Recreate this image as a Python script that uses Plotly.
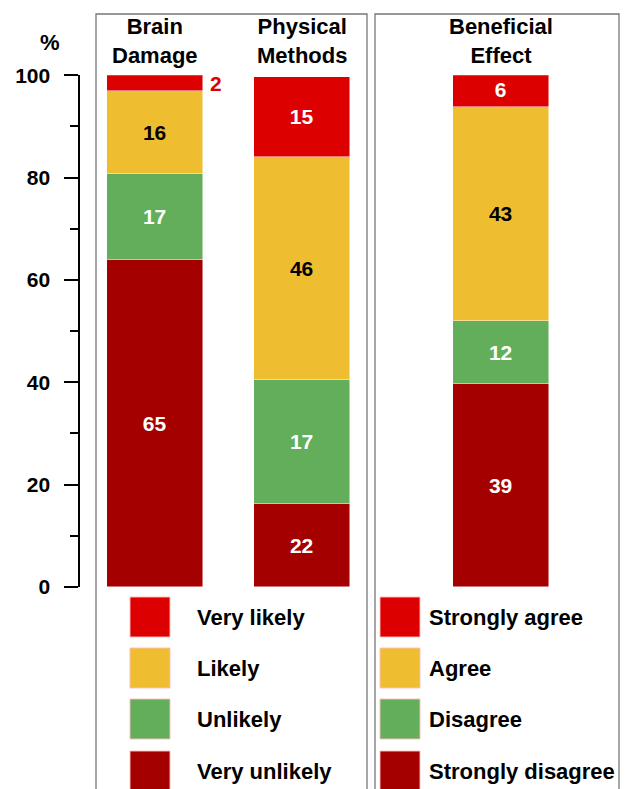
import plotly.graph_objects as go

W, H = 626, 789

# ---------------- data ----------------
left_categories = ["Brain Damage", "Physical Methods"]
left_titles = ["Brain<br>Damage", "Physical<br>Methods"]
right_categories = ["Beneficial Effect"]
right_titles = ["Beneficial<br>Effect"]

left_levels = ["Very unlikely", "Unlikely", "Likely", "Very likely"]      # bottom -> top
right_levels = ["Strongly disagree", "Disagree", "Agree", "Strongly agree"]

# drawn segment heights (%)
brain_damage_heights = [63.8, 16.9, 16.1, 3.2]
physical_methods_heights = [16.2, 24.2, 43.5, 15.8]
beneficial_effect_heights = [39.7, 12.3, 41.7, 6.6]

# printed labels
brain_damage_labels = [65, 17, 16, 2]
physical_methods_labels = [22, 17, 46, 15]
beneficial_effect_labels = [39, 12, 43, 6]

y_ticks = [0, 20, 40, 60, 80, 100]
y_minor_ticks = [10, 30, 50, 70, 90]

# ---------------- style ----------------
colors = ["#A50000", "#63AE5A", "#EEBD30", "#DD0000"]
text_colors = ["white", "white", "black", "white"]
FONT = "Liberation Sans, Arial, sans-serif"


def px(x):
    return x / W


def py(y):
    return 1 - y / H


# axis geometry (pixels)
y0_px, y100_px = 587.0, 75.3
left_box = (96, 367)
right_box = (375, 619)
bar_w_px = 96.0
left_centers_px = (154.7, 301.7)
right_center_px = 501.3
unit_px = left_centers_px[1] - left_centers_px[0]
bar_w = bar_w_px / unit_px

x1_range = [(left_box[0] - left_centers_px[0]) / unit_px, (left_box[1] - left_centers_px[0]) / unit_px]
x2_range = [(right_box[0] - right_center_px) / unit_px, (right_box[1] - right_center_px) / unit_px]

fig = go.Figure()

for i in range(4):
    heights = [brain_damage_heights[i], physical_methods_heights[i]]
    labels = [brain_damage_labels[i], physical_methods_labels[i]]
    texts = [str(v) for v in labels]
    if i == 3:
        texts[0] = ""  # the "2" is drawn outside the bar
    fig.add_trace(go.Bar(
        x=left_categories, y=heights, name=left_levels[i],
        marker=dict(color=colors[i], line=dict(color="rgba(255,255,255,0.6)", width=0.8)),
        width=bar_w, text=texts, textposition="inside", insidetextanchor="middle",
        textangle=0, constraintext="none",
        textfont=dict(family=FONT, size=21, color=text_colors[i], weight="bold"),
        xaxis="x", yaxis="y", showlegend=False, hoverinfo="skip",
    ))
    fig.add_trace(go.Bar(
        x=right_categories, y=[beneficial_effect_heights[i]], name=right_levels[i],
        marker=dict(color=colors[i], line=dict(color="rgba(255,255,255,0.6)", width=0.8)),
        width=bar_w, text=[str(beneficial_effect_labels[i])], textposition="inside",
        insidetextanchor="middle", textangle=0, constraintext="none",
        textfont=dict(family=FONT, size=21, color=text_colors[i], weight="bold"),
        xaxis="x2", yaxis="y2", showlegend=False, hoverinfo="skip",
    ))

ydom = [py(y0_px), py(y100_px)]

fig.update_layout(
    width=W, height=H, margin=dict(l=0, r=0, t=0, b=0, autoexpand=False),
    paper_bgcolor="white", plot_bgcolor="rgba(0,0,0,0)",
    barmode="stack", bargap=0,
    font=dict(family=FONT, color="black"),
    xaxis=dict(domain=[px(left_box[0]), px(left_box[1])], range=x1_range, type="category",
               automargin=False,
               showticklabels=False, showgrid=False, zeroline=False, showline=False, ticks=""),
    xaxis2=dict(domain=[px(right_box[0]), px(right_box[1])], range=x2_range, type="category",
                anchor="y2", automargin=False,
                showticklabels=False, showgrid=False, zeroline=False, showline=False, ticks=""),
    yaxis=dict(domain=ydom, range=[0, 100], anchor="free", position=px(79.3), automargin=False,
               tickvals=y_ticks, ticktext=[str(v) for v in y_ticks],
               ticks="outside", ticklen=14, tickwidth=1.5, tickcolor="black",
               showline=True, linecolor="black", linewidth=1.8,
               showgrid=False, zeroline=False, ticklabelstandoff=10,
               tickfont=dict(family=FONT, size=21, color="black", weight="bold"),
               minor=dict(tickvals=y_minor_ticks, ticks="outside", ticklen=8,
                          tickwidth=1.5, tickcolor="black", showgrid=False)),
    yaxis2=dict(domain=ydom, range=[0, 100], anchor="x2", matches="y", automargin=False,
                showticklabels=False, showgrid=False, zeroline=False, showline=False, ticks=""),
)

shapes = []
annotations = []

# panel boxes
for (a, b) in (left_box, right_box):
    shapes.append(dict(type="rect", xref="paper", yref="paper",
                       x0=px(a), x1=px(b), y0=-0.02, y1=py(14),
                       line=dict(color="#777777", width=1.3), fillcolor="rgba(0,0,0,0)"))

# panel titles
for cat, t in zip(left_categories, left_titles):
    annotations.append(dict(x=cat, xref="x", y=py(40.5), yref="paper", text=t, showarrow=False,
                            xanchor="center", yanchor="middle",
                            font=dict(family=FONT, size=22, color="black", weight="bold")))
for cat, t in zip(right_categories, right_titles):
    annotations.append(dict(x=cat, xref="x2", y=py(40.5), yref="paper", text=t, showarrow=False,
                            xanchor="center", yanchor="middle",
                            font=dict(family=FONT, size=22, color="black", weight="bold")))

# "%" label
annotations.append(dict(x=px(50), y=py(42), xref="paper", yref="paper", text="%", showarrow=False,
                        xanchor="center", yanchor="middle",
                        font=dict(family=FONT, size=22, color="black", weight="bold")))

# outside label "2"
annotations.append(dict(x=left_categories[0], xref="x",
                        y=sum(brain_damage_heights[:3]) + brain_damage_heights[3] / 2, yref="y",
                        text=str(brain_damage_labels[3]), showarrow=False,
                        xanchor="left", yanchor="middle", xshift=bar_w_px / 2 + 5,
                        font=dict(family=FONT, size=21, color="#DD0000", weight="bold")))

# custom legends (top to bottom)
row_tops = [597, 648, 699, 751]
sq = 40
legend_specs = [
    (130, 195, list(reversed(left_levels))),
    (380, 427, list(reversed(right_levels))),
]
rev_colors = list(reversed(colors))
for sx, tx, labels in legend_specs:
    for k, lab in enumerate(labels):
        top = row_tops[k]
        shapes.append(dict(type="rect", xref="paper", yref="paper",
                           x0=px(sx), x1=px(sx + sq), y0=py(top + sq), y1=py(top),
                           fillcolor=rev_colors[k], line=dict(color="rgba(255,190,190,0.9)", width=1)))
        annotations.append(dict(x=px(tx), y=py(top + sq / 2), xref="paper", yref="paper",
                                text=lab, showarrow=False, xanchor="left", yanchor="middle",
                                font=dict(family=FONT, size=22, color="black", weight="bold")))

fig.update_layout(shapes=shapes, annotations=annotations)

fig.write_html("out.html")
